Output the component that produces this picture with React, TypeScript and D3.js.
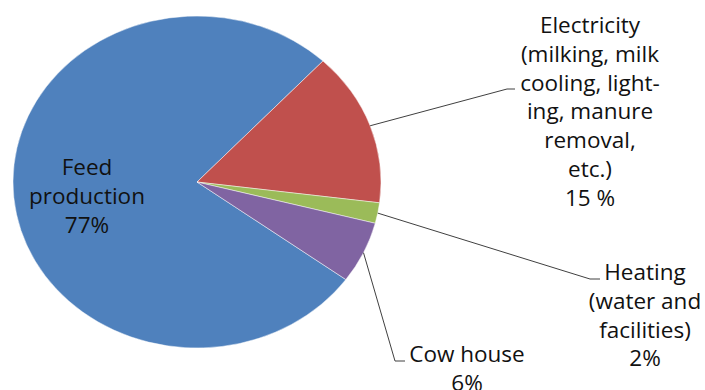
import React from "react";
import * as d3 from "d3";

const categories = ["Feed production", "Electricity", "Heating", "Cow house"];
const values = [77, 15, 2, 6];
const labelLines = [
  ["Feed", "production", "77%"],
  ["Electricity", "(milking, milk", "cooling, light-", "ing, manure", "removal,", "etc.)", "15 %"],
  ["Heating", "(water and", "facilities)", "2%"],
  ["Cow house", "6%"],
];
const colors = ["#4F81BD", "#C0504D", "#9BBB59", "#8064A2"];

const W = 705;
const H = 390;
const cx = 197;
const cy = 182;
const rx = 184;
const ry = 166;
const startDeg = 126;
const lineH = 28.8;
const fontSize = 22.5;

// label layout: text center x, first baseline y, leader elbow (x,y), leader end x
const layout = [
  { tx: 87, ty: 175, leader: null as null | { ex: number; ey: number; endX: number } },
  { tx: 590, ty: 33, leader: { ex: 507, ey: 89, endX: 515 } },
  { tx: 645, ty: 280, leader: { ex: 590, ey: 279, endX: 600 } },
  { tx: 467, ty: 362, leader: { ex: 395, ey: 361, endX: 405 } },
];

export default function App() {
  const pie = d3
    .pie<number>()
    .sort(null)
    .startAngle((startDeg * Math.PI) / 180)
    .endAngle((startDeg * Math.PI) / 180 + 2 * Math.PI);
  const arcs = pie(values);
  const arc = d3.arc<d3.PieArcDatum<number>>().innerRadius(0).outerRadius(rx);
  const sy = ry / rx;

  return (
    <svg width={W} height={H} style={{ display: "block", position: "absolute", left: 0, top: 0 }}>
      <rect width={W} height={H} fill="#fff" />
      <g transform={`translate(${cx},${cy}) scale(1,${sy})`}>
        {arcs.map((a, i) => (
          <path key={categories[i]} d={arc(a) || ""} fill={colors[i]} stroke="#fff" strokeWidth={0.5} />
        ))}
      </g>
      {arcs.map((a, i) => {
        const L = layout[i];
        if (!L.leader) return null;
        const mid = (a.startAngle + a.endAngle) / 2;
        const px = cx + rx * Math.sin(mid);
        const py = cy - ry * Math.cos(mid);
        return (
          <polyline
            key={"l" + i}
            points={`${px},${py} ${L.leader.ex},${L.leader.ey} ${L.leader.endX},${L.leader.ey}`}
            fill="none"
            stroke="#404040"
            strokeWidth={1}
          />
        );
      })}
      {labelLines.map((lines, i) => (
        <text
          key={"t" + i}
          textAnchor="middle"
          fontFamily="'Open Sans', Lato, sans-serif"
          fontSize={fontSize}
          fill="#111"
        >
          {lines.map((ln, j) => (
            <tspan key={j} x={layout[i].tx} y={layout[i].ty + j * lineH}>
              {ln}
            </tspan>
          ))}
        </text>
      ))}
    </svg>
  );
}
